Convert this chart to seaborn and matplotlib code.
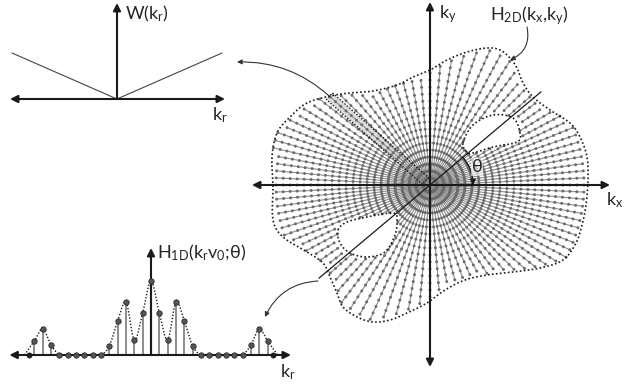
import numpy as np
import matplotlib
matplotlib.use("Agg")
import matplotlib.pyplot as plt
from matplotlib.path import Path
from matplotlib.patches import FancyArrowPatch, Polygon
from matplotlib.collections import LineCollection
import seaborn as sns
import pandas as pd

# ---------------- data ----------------
# W(k_r): V-shaped weighting (k_r, value)
w_kr = [-105, 0, 105]
w_val = [46, 0, 46]

# H_1D samples along one radial line (sample index, value)
h1_k = list(range(-14, 15))
h1_val = [14, 26, 10, 0, 0, 0, 0, 0, 0, 9, 34, 53, 15, 42, 74,
          42, 15, 53, 34, 9, 0, 0, 0, 0, 0, 0, 10, 26, 14]
h1_end_k = [-14.7, 14.7]

# H_2D support boundary (kx, ky)
boundary_kx = [-157, -158, -153, -140, -123, -100, -80, -57, -33, -17, 0, 17, 37, 57, 70, 80, 87, 93,
               103, 120, 140, 150, 157, 158, 156, 152, 146, 133, 110, 83, 57, 35, 15, -3, -23, -40,
               -57, -73, -87, -93, -100, -107, -123, -147, -157]
boundary_ky = [-2, 28, 52, 68, 82, 89, 92, 94, 100, 108, 115, 125, 133, 137, 135, 127, 117, 102,
               88, 75, 62, 48, 28, 5, -20, -40, -58, -75, -83, -87, -90, -95, -105, -118, -128, -135,
               -137, -132, -122, -108, -92, -78, -67, -52, -35]
hole1_kx = [33, 43, 63, 83, 90, 87, 63, 43, 37]
hole1_ky = [42, 60, 70, 67, 52, 43, 38, 32, 33]
hole2_kx = [-92, -83, -63, -37, -33, -35, -45, -63, -80, -90]
hole2_ky = [-45, -37, -32, -28, -35, -50, -67, -72, -68, -58]

n_spokes = 100
spoke_stretch = 1.37
sample_step = 7.0
highlight_angle = 137
theta_deg = 40

lbl_w = r'$\mathrm{W(k_r)}$'
lbl_kr = r'$\mathrm{k_r}$'
lbl_h1 = r'$\mathrm{H_{1D}(k_r v_0}$;θ)'
lbl_h2 = r'$\mathrm{H_{2D}(k_x{,}k_y)}$'
lbl_kx = r'$\mathrm{k_x}$'
lbl_ky = r'$\mathrm{k_y}$'
lbl_theta = 'θ'

# ---------------- layout ----------------
W_O = (117, 99)
H_O = (151, 355)
DK = 8.33
K_O = (430, 185)


def W2px(x, y):
    return W_O[0] + np.asarray(x, float), W_O[1] - np.asarray(y, float)


def H2px(k, v):
    return H_O[0] + np.asarray(k, float) * DK, H_O[1] - np.asarray(v, float)


def K2px(x, y):
    return K_O[0] + np.asarray(x, float), K_O[1] - np.asarray(y, float)


def catmull(P, closed=True, n=16):
    P = np.asarray(P, float)
    N = len(P)
    out = []
    rng = range(N) if closed else range(N - 1)
    for i in rng:
        if closed:
            p0, p1, p2, p3 = P[i - 1], P[i], P[(i + 1) % N], P[(i + 2) % N]
        else:
            p0 = P[max(i - 1, 0)]
            p1 = P[i]
            p2 = P[i + 1]
            p3 = P[min(i + 2, N - 1)]
        t = np.linspace(0, 1, n, endpoint=False)[:, None]
        out.append(0.5 * (2 * p1 + (-p0 + p2) * t + (2 * p0 - 5 * p1 + 4 * p2 - p3) * t ** 2
                          + (-p0 + 3 * p1 - 3 * p2 + p3) * t ** 3))
    res = np.vstack(out)
    if closed:
        res = np.vstack([res, res[:1]])
    else:
        res = np.vstack([res, P[-1:]])
    return res


sns.set_theme(style="white")
plt.rcParams['font.family'] = ['Lato', 'DejaVu Sans']
plt.rcParams['mathtext.fontset'] = 'custom'
plt.rcParams['mathtext.rm'] = 'Lato'
plt.rcParams['mathtext.it'] = 'Lato:italic'
plt.rcParams['mathtext.bf'] = 'Lato:bold'

fig = plt.figure(figsize=(6.26, 3.85), dpi=100)
ax = fig.add_axes([0, 0, 1, 1])
ax.set_xlim(0, 626)
ax.set_ylim(385, 0)
ax.axis('off')

FS = 13


def axis_arrow(p_from, p_to, both=False, lw=1.5):
    ax.annotate('', xy=p_to, xytext=p_from,
                arrowprops=dict(arrowstyle='<|-|>' if both else '-|>', lw=lw, color='k',
                                shrinkA=0, shrinkB=0, mutation_scale=11), zorder=6)


# ---------------- W panel ----------------
wx, wy = W2px(w_kr, w_val)
sns.lineplot(x=wx, y=wy, sort=False, estimator=None, ax=ax, color='#444444', lw=0.8)
axis_arrow(tuple(np.ravel(W2px(-107, 0))), tuple(np.ravel(W2px(108, 0))), both=True)
axis_arrow(tuple(np.ravel(W2px(0, 0))), tuple(np.ravel(W2px(0, 96))))
ax.text(125, 14, lbl_w, fontsize=FS, ha='left', va='center')
ax.text(212, 115, lbl_kr, fontsize=FS, ha='left', va='center')

# ---------------- H1D panel ----------------
env_k = [-15.2] + h1_k + [15.2]
env_v = [0] + h1_val + [0]
env = catmull(np.column_stack([env_k, env_v]), closed=False, n=12)
env[:, 1] = np.clip(env[:, 1], 0, None)
ex, ey = H2px(env[:, 0], env[:, 1])
ax.plot(ex, ey, color='k', lw=1.0, ls=(0, (1, 1.3)), zorder=3)
for k, v in zip(h1_k, h1_val):
    if v > 0:
        sx, sy = H2px([k, k], [0, v])
        ax.plot(sx, sy, color='#222222' if k == 0 else '#6e6e6e', lw=1.5 if k == 0 else 1.1, zorder=2)
axis_arrow(tuple(np.ravel(H2px(-17.0, 0))), tuple(np.ravel(H2px(16.8, 0))), both=True)
axis_arrow(tuple(np.ravel(H2px(0, 0))), tuple(np.ravel(H2px(0, 107))))
px_, py_ = H2px(h1_k, h1_val)
sns.scatterplot(x=px_, y=py_, ax=ax, color='#555555', s=15, edgecolor='#2a2a2a', linewidth=0.6, zorder=7)
bx_, by_ = H2px(h1_end_k, [0, 0])
sns.scatterplot(x=bx_, y=by_, ax=ax, color='k', s=15, edgecolor='k', zorder=8)
ax.text(157, 253, lbl_h1, fontsize=FS, ha='left', va='center')
ax.text(280, 372, lbl_kr, fontsize=FS, ha='left', va='center')

# ---------------- 2D panel ----------------
bnd = catmull(np.column_stack([boundary_kx, boundary_ky]), closed=True, n=10)
h1p = catmull(np.column_stack([hole1_kx, hole1_ky]), closed=True, n=10)
h2p = catmull(np.column_stack([hole2_kx, hole2_ky]), closed=True, n=10)
pb, ph1, ph2 = Path(bnd), Path(h1p), Path(h2p)

phis = 2 * np.pi * np.arange(n_spokes) / n_spokes
psis = np.arctan2(np.sin(phis), spoke_stretch * np.cos(phis))

seg_list = []
mk_x, mk_y = [], []
for psi in psis:
    r = np.arange(1, 40) * sample_step
    pts = np.column_stack([r * np.cos(psi), r * np.sin(psi)])
    keep = pb.contains_points(pts) & ~ph1.contains_points(pts) & ~ph2.contains_points(pts)
    for j in range(len(pts) - 1):
        if keep[j] and keep[j + 1]:
            a = np.ravel(K2px(*pts[j]))
            b = np.ravel(K2px(*pts[j + 1]))
            seg_list.append([a, b])
    if keep[0]:
        seg_list.append([np.ravel(K2px(0, 0)), np.ravel(K2px(*pts[0]))])
    kx_, ky_ = K2px(pts[keep, 0], pts[keep, 1])
    mk_x.extend(kx_)
    mk_y.extend(ky_)

# highlighted strip along the spoke nearest the requested angle
hi = np.argmin(np.abs(np.rad2deg(psis) % 360 - highlight_angle))
u = np.array([np.cos(psis[hi]), np.sin(psis[hi])])
rr = np.linspace(0, 250, 2000)
inside = pb.contains_points(np.outer(rr, u))
r_end = rr[inside][-1]
nrm = np.array([-u[1], u[0]])
hw = 4.5
corners = np.array([6 * u + hw * nrm, r_end * u + hw * nrm, r_end * u - hw * nrm, 6 * u - hw * nrm])
cx_, cy_ = K2px(corners[:, 0], corners[:, 1])
ax.add_patch(Polygon(np.column_stack([cx_, cy_]), closed=True, facecolor='#dcdcdc',
                     edgecolor='none', zorder=1))
ax.add_patch(Polygon(np.column_stack([cx_, cy_]), closed=True, facecolor='none',
                     edgecolor='k', lw=1.0, ls=(0, (1, 1.3)), zorder=5))

ax.add_collection(LineCollection(seg_list, colors='#8c8c8c', linewidths=0.8, zorder=2))
sns.scatterplot(x=mk_x, y=mk_y, ax=ax, color='#6b6b6b', s=4.5, edgecolor='none', zorder=3)

for P in (bnd, h1p, h2p):
    qx, qy = K2px(P[:, 0], P[:, 1])
    ax.plot(qx, qy, color='k', lw=1.2, ls=(0, (1, 1.4)), zorder=5)

axis_arrow(tuple(np.ravel(K2px(-178, 0))), tuple(np.ravel(K2px(180, 0))), both=True)
axis_arrow(tuple(np.ravel(K2px(0, -182))), tuple(np.ravel(K2px(0, 183))), both=True)

th = np.deg2rad(theta_deg)
lx, ly = K2px([-145 * np.cos(th), 145 * np.cos(th)], [-145 * np.sin(th), 145 * np.sin(th)])
ax.plot(lx, ly, color='k', lw=0.9, zorder=6)

R = 43
a0 = tuple(np.ravel(K2px(R * np.cos(th), R * np.sin(th))))
a1 = tuple(np.ravel(K2px(R, 0)))
ax.add_patch(FancyArrowPatch(a0, a1, connectionstyle='arc3,rad=-0.18', arrowstyle='-|>',
                             mutation_scale=8, lw=0.9, color='k', shrinkA=0, shrinkB=0, zorder=7))
ax.text(477, 167, lbl_theta, fontsize=FS, ha='center', va='center', zorder=8,
        bbox=dict(boxstyle='square,pad=0.05', fc='white', ec='none', alpha=0.6))

ax.text(439, 14, lbl_ky, fontsize=FS, ha='left', va='center')
ax.text(490, 16, lbl_h2, fontsize=FS, ha='left', va='center')
ax.text(606, 200, lbl_kx, fontsize=FS, ha='left', va='center')

# curved pointer arrows
strip_top = tuple(np.ravel(K2px(*(r_end * u))))
ax.add_patch(FancyArrowPatch(strip_top, (237, 62), connectionstyle='arc3,rad=0.2', arrowstyle='-|>',
                             mutation_scale=7, lw=0.8, color='#333333', shrinkA=0, shrinkB=0, zorder=7))
ax.add_patch(FancyArrowPatch((318, 281), (265, 317), connectionstyle='arc3,rad=0.3', arrowstyle='-|>',
                             mutation_scale=7, lw=0.8, color='#333333', shrinkA=0, shrinkB=0, zorder=7))
ax.add_patch(FancyArrowPatch((527, 27), (510, 60), connectionstyle='arc3,rad=-0.4', arrowstyle='-|>',
                             mutation_scale=7, lw=0.8, color='#333333', shrinkA=0, shrinkB=0, zorder=7))

fig.savefig('out.png', dpi=100)
